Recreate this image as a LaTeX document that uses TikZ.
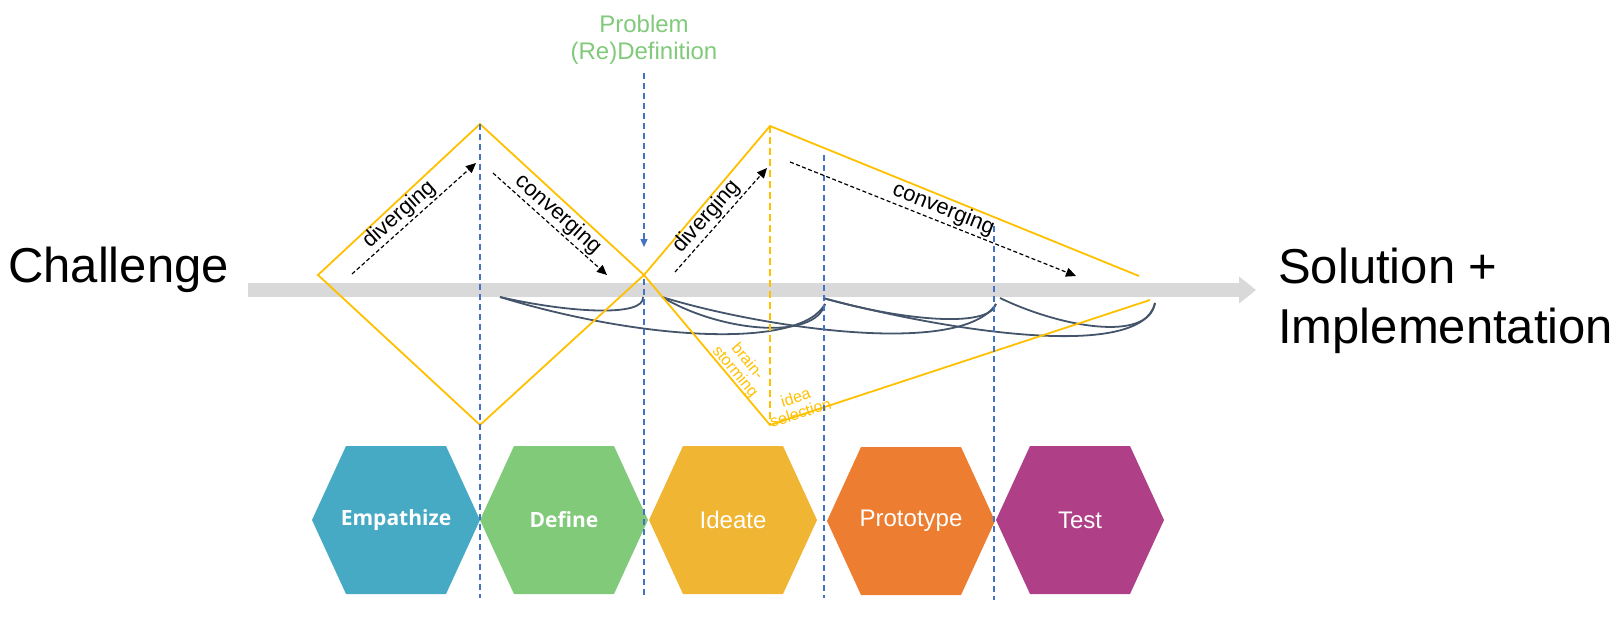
\documentclass[tikz,border=0pt]{standalone}
\usepackage{fontspec}
\setmainfont{Liberation Sans}
\newfontfamily\hexbold{Open Sans}
\usetikzlibrary{arrows.meta}
\definecolor{goldline}{RGB}{255,192,0}
\definecolor{stageblue}{RGB}{68,114,196}
\definecolor{swooshgray}{RGB}{68,84,106}
\definecolor{bandgray}{RGB}{217,217,217}
\definecolor{empcol}{RGB}{71,170,196}
\definecolor{defcol}{RGB}{128,202,122}
\definecolor{idecol}{RGB}{240,181,51}
\definecolor{procol}{RGB}{237,125,49}
\definecolor{tstcol}{RGB}{175,63,134}
\tikzset{goldedge/.style = {draw=goldline, line width=1.8pt}}
\tikzset{phaseline/.style = {draw=stageblue, line width=1.4pt, dash pattern=on 6pt off 4pt}}
\tikzset{flow/.style = {draw=black, line width=1.2pt, dash pattern=on 4pt off 2.5pt, -{Triangle[length=10pt,width=9pt]}}}
\tikzset{swoosh/.style = {draw=swooshgray, line width=1.8pt}}
\tikzset{hexa/.style = {insert path={(-84,0) -- (-50,-74) -- (50,-74) -- (84,0) -- (50,74) -- (-50,74) -- cycle}}}
\tikzset{hexlabel/.style = {text=white, font=\fontsize{24}{28}\selectfont}}
\tikzset{flowlabel/.style = {sloped, above, inner sep=2pt, font=\fontsize{22}{26}\selectfont}}
\tikzset{smalllabel/.style = {text=goldline, align=center, inner sep=0pt, font=\fontsize{16}{16}\selectfont}}

\begin{document}
\begin{tikzpicture}[x=1pt, y=-1pt]
\useasboundingbox (0,0) rectangle (1624,621);
% main arrow
\coordinate (start) at (248,290);
\coordinate (goal) at (1256,290);
\draw[draw=bandgray, line width=14pt, -{Triangle[length=17pt,width=26pt]}] (start) -- (goal);
\node[anchor=base west, inner sep=0pt, font=\fontsize{49}{58}\selectfont] (chal) at (8,282) {Challenge};
\node[anchor=base west, inner sep=0pt, align=left, font=\fontsize{49}{60}\selectfont] (sol) at (1278,343) {Solution +\\Implementation};
\node[anchor=base, inner sep=0pt, align=center, text=defcol, font=\fontsize{24}{27}\selectfont] (prob) at (644,59) {Problem\\(Re)Definition};

% stages
\fill[empcol, shift={(396,520)}, hexa];
\fill[defcol, shift={(564,520)}, hexa];
\fill[idecol, shift={(733,520)}, hexa];
\fill[procol, shift={(911,521)}, hexa];
\fill[tstcol, shift={(1080,520)}, hexa];
\node[hexlabel, font=\hexbold\bfseries\fontsize{21}{25}\selectfont] (emp) at (396,520) {Empathize};
\node[hexlabel, font=\hexbold\bfseries\fontsize{21}{25}\selectfont] (def) at (564,520) {Define};
\node[hexlabel] (ide) at (733,520) {Ideate};
\node[hexlabel] (pro) at (911,521) {Prototype};
\node[hexlabel] (tst) at (1080,520) {Test};

% iterations
\coordinate (empR) at (500,297);
\coordinate (defL) at (643,297);
\coordinate (defR) at (662,297);
\coordinate (ideL) at (825,304);
\coordinate (ideR) at (823,298);
\coordinate (proL) at (996,304);
\coordinate (proR) at (1000,298);
\coordinate (tstL) at (1155,303);
\draw[swoosh] (empR) .. controls +(70,16) and +(2,20) .. (defL);
\draw[swoosh] (empR) .. controls +(140,43) and +(-25,46) .. (ideL);
\draw[swoosh] (defR) .. controls +(58,35) and +(-10,37) .. (ideL);
\draw[swoosh] (defR) .. controls +(97,30) and +(-35,54) .. (proL);
\draw[swoosh] (ideR) .. controls +(77,22) and +(-7,25) .. (proL);
\draw[swoosh] (ideR) .. controls +(127,34) and +(-13,58) .. (tstL);
\draw[swoosh] (proR) .. controls +(60,29) and +(-7,40) .. (tstL);

% diamonds
\coordinate (d1w) at (318,275);
\coordinate (d1n) at (480,124);
\coordinate (d1e) at (644,275);
\coordinate (d1s) at (480,425);
\coordinate (d2n) at (770,126);
\coordinate (d2ne) at (1139,276);
\coordinate (d2se) at (1150,300);
\coordinate (d2s) at (770,425);
\draw[goldedge] (d1w) -- (d1n) -- (d1e) -- (d1s) -- cycle;
\draw[goldedge] (d2ne) -- (d2n) -- (d1e) -- (d2s) -- (d2se);
\draw[goldedge, dash pattern=on 7pt off 4pt] (d2n) -- (d2s);
\node[smalllabel, rotate=-50] (brain) at (741,367) {brain-\\storming};
\node[smalllabel, rotate=18] (idea) at (798,405) {idea\\selection};

% phase borders
\coordinate (probtop) at (644,73);
\coordinate (probtip) at (644,247);
\coordinate (p2) at (644,279);
\coordinate (p3) at (824,155);
\coordinate (p4) at (994,226);
\coordinate (b1) at (480,598);
\coordinate (b2) at (644,598);
\coordinate (b3) at (824,598);
\coordinate (b4) at (994,600);
\draw[phaseline] (d1n) -- (b1);
\draw[phaseline, -{Triangle[length=8pt,width=7pt]}] (probtop) -- (probtip);
\draw[phaseline] (p2) -- (b2);
\draw[phaseline] (p3) -- (b3);
\draw[phaseline] (p4) -- (b4);

% diverging / converging
\coordinate (div1a) at (352,274);
\coordinate (div1b) at (476,163);
\coordinate (con1a) at (493,173);
\coordinate (con1b) at (607,275);
\coordinate (div2a) at (675,272);
\coordinate (div2b) at (767,168);
\coordinate (con2a) at (790,162);
\coordinate (con2b) at (1076,276);
\draw[flow] (div1a) -- node[flowlabel, pos=0.45] {diverging} (div1b);
\draw[flow] (con1a) -- node[flowlabel, pos=0.5] {converging} (con1b);
\draw[flow] (div2a) -- node[flowlabel, pos=0.45] {diverging} (div2b);
\draw[flow] (con2a) -- node[flowlabel, pos=0.52] {converging} (con2b);
\end{tikzpicture}
\end{document}
